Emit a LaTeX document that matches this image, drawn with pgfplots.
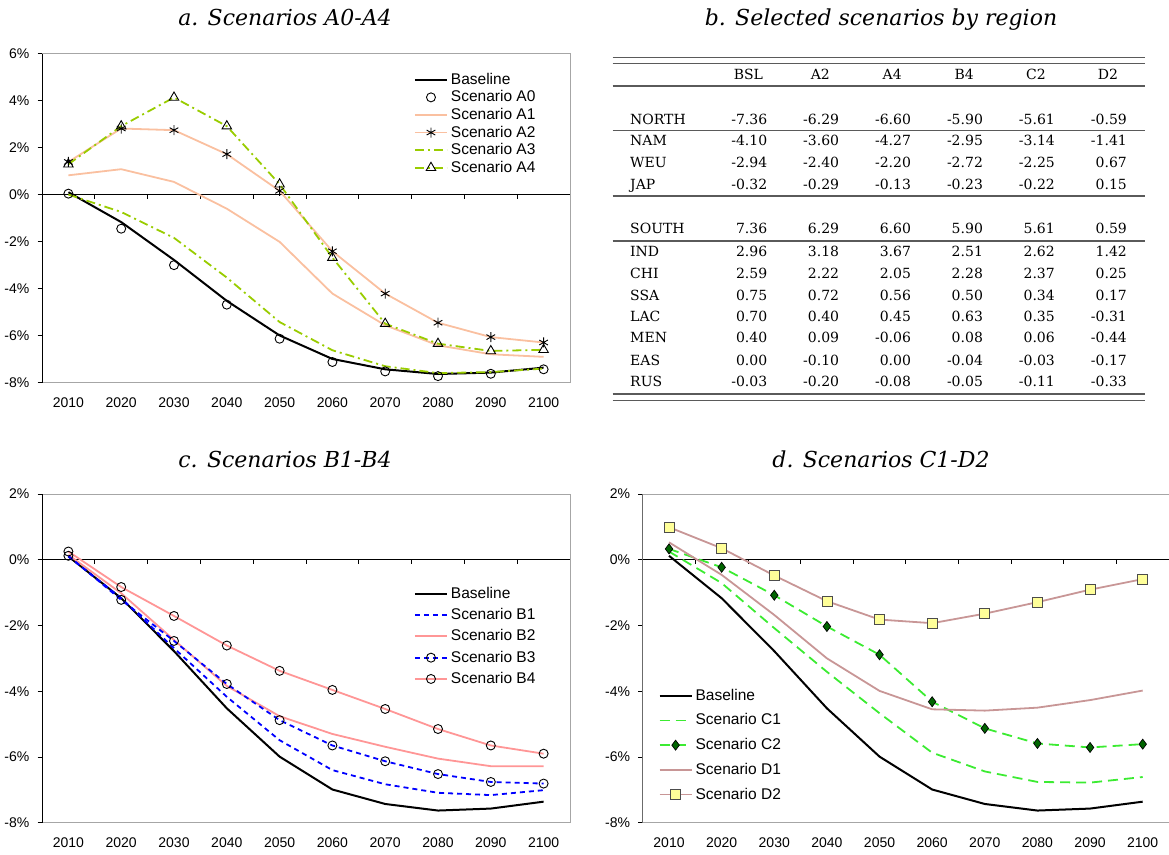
\documentclass[border=0pt]{standalone}
\usepackage{fontspec}
\setmainfont{Liberation Sans}
\newfontfamily\serif{DejaVu Serif}
\usepackage{pgfplots}
\usepackage{pgfplotstable}
\pgfplotsset{compat=1.18}

\definecolor{salmon}{RGB}{250,192,160}
\definecolor{lime}{RGB}{153,204,0}
\definecolor{bblue}{RGB}{0,0,255}
\definecolor{pinkb}{RGB}{255,150,150}
\definecolor{cgreen}{RGB}{60,235,50}
\definecolor{dgreen}{RGB}{0,100,0}
\definecolor{rose}{RGB}{200,150,150}
\definecolor{lyellow}{RGB}{255,255,153}
\definecolor{rule}{RGB}{90,90,90}

% panel a
\pgfplotstableread{
year  bsl    a0     a1     a2     a3     a4
2010  0.10   0.04   0.82   1.39   0.00   1.29
2020 -1.17  -1.45   1.08   2.81  -0.74   2.91
2030 -2.78  -3.00   0.54   2.74  -1.84   4.13
2040 -4.52  -4.68  -0.60   1.72  -3.53   2.91
2050 -5.99  -6.13  -2.01   0.16  -5.42   0.44
2060 -6.99  -7.12  -4.21  -2.41  -6.62  -2.68
2070 -7.43  -7.52  -5.56  -4.21  -7.30  -5.49
2080 -7.63  -7.72  -6.41  -5.45  -7.59  -6.34
2090 -7.57  -7.62  -6.79  -6.06  -7.55  -6.65
2100 -7.36  -7.43  -6.90  -6.29  -7.40  -6.60
}\tabA

% panel c
\pgfplotstableread{
year  bsl    b1     b2     b3     b4
2010  0.10   0.10   0.15   0.12   0.25
2020 -1.17  -1.17  -1.02  -1.22  -0.83
2030 -2.78  -2.69  -2.44  -2.47  -1.71
2040 -4.52  -4.17  -3.84  -3.78  -2.61
2050 -5.99  -5.49  -4.76  -4.88  -3.38
2060 -6.99  -6.40  -5.30  -5.65  -3.96
2070 -7.43  -6.83  -5.69  -6.13  -4.54
2080 -7.63  -7.09  -6.05  -6.52  -5.15
2090 -7.57  -7.16  -6.28  -6.76  -5.65
2100 -7.36  -7.01  -6.28  -6.81  -5.90
}\tabC

% panel d
\pgfplotstableread{
year  bsl    c1     c2     d1     d2
2010  0.12   0.25   0.33   0.53   0.99
2020 -1.17  -0.71  -0.23  -0.46   0.35
2030 -2.78  -2.08  -1.08  -1.68  -0.48
2040 -4.52  -3.41  -2.03  -3.00  -1.26
2050 -5.99  -4.67  -2.89  -3.99  -1.82
2060 -6.99  -5.87  -4.32  -4.55  -1.93
2070 -7.43  -6.44  -5.13  -4.59  -1.64
2080 -7.63  -6.76  -5.59  -4.50  -1.29
2090 -7.57  -6.78  -5.71  -4.27  -0.91
2100 -7.36  -6.61  -5.61  -3.98  -0.59
}\tabD

\pgfplotsset{
  panel/.style={
    scale only axis,
    xmin=2005, xmax=2105,
    xtick={2010,2020,2030,2040,2050,2060,2070,2080,2090,2100},
    xticklabels={2010,2020,2030,2040,2050,2060,2070,2080,2090,2100},
    xtick style={draw=none},
    ytick pos=left,
    tick align=outside,
    major tick length=4.5pt,
    ytick style={black, line width=0.8pt},
    axis line style={draw=gray!70, line width=1pt},
    tick label style={font=\fontsize{14}{16}\selectfont},
    yticklabel style={inner sep=0pt, xshift=-8pt},
    xticklabel style={inner sep=0pt, yshift=-10pt},
    legend cell align=left,
    legend style={draw=none, fill=none, inner sep=0pt, outer sep=0pt,
      anchor=north west, font=\fontsize{15.5}{17}\selectfont, column sep=3pt,
      nodes={inner sep=0pt, text height=11pt, text depth=3pt}},
    legend image code/.code={
      \draw[mark repeat=2, mark phase=2, ##1] plot coordinates {(0pt,0.5pt) (16pt,0.5pt) (32pt,0.5pt)};},
    every axis plot/.append style={line width=1.8pt},
  },
}
\newcommand\decor{%
  \draw[black, line width=1pt] (rel axis cs:0,0) -- (rel axis cs:0,1);
  \draw[black, line width=1pt] (axis cs:2005,0) -- (axis cs:2105,0);
  \pgfplotsinvokeforeach{2015,2025,2035,2045,2055,2065,2075,2085,2095}{
    \draw[black, line width=0.8pt] (axis cs:##1,0) -- ++(0pt,-4.5pt);}
}
\newcommand\trow[8]{%
  \node[anchor=base west] at (630pt,-#1pt) {#2};
  \node[anchor=base east] at (767.4pt,-#1pt) {#3};
  \node[anchor=base east] at (839.3pt,-#1pt) {#4};
  \node[anchor=base east] at (911.2pt,-#1pt) {#5};
  \node[anchor=base east] at (983.1pt,-#1pt) {#6};
  \node[anchor=base east] at (1055pt,-#1pt) {#7};
  \node[anchor=base east] at (1127pt,-#1pt) {#8};
}

\begin{document}
\begin{tikzpicture}
\path[use as bounding box] (0pt,0pt) rectangle (1169pt,-854pt);

% titles
\begin{scope}[every node/.style={anchor=base, font=\serif\itshape\fontsize{22}{26}\selectfont}]
\node at (285pt,-25pt) {a. Scenarios A0-A4};
\node at (881pt,-25pt) {b. Selected scenarios by region};
\node at (285pt,-467pt) {c. Scenarios B1-B4};
\node at (881pt,-467pt) {d. Scenarios C1-D2};
\end{scope}

% ---- panel a
\begin{axis}[panel, at={(42pt,-382.7pt)}, anchor=south west,
  width=528pt, height=329.2pt, ymin=-8, ymax=6,
  ytick={-8,-6,-4,-2,0,2,4,6},
  yticklabels={-8\%,-6\%,-4\%,-2\%,0\%,2\%,4\%,6\%},
  legend style={at={(0.7045,0.94)}, row sep=3.6pt}]
\decor
\addplot[color=black, line width=2pt] table[x=year, y=bsl] {\tabA};
\addlegendentry{Baseline}
\addplot[only marks, mark=o, mark size=4.5pt, mark options={black, line width=0.9pt}] table[x=year, y=a0] {\tabA};
\addlegendentry{Scenario A0}
\addplot[color=salmon] table[x=year, y=a1] {\tabA};
\addlegendentry{Scenario A1}
\addplot[color=salmon, mark=asterisk, mark size=5pt, mark options={black, line width=0.9pt}] table[x=year, y=a2] {\tabA};
\addlegendentry{Scenario A2}
\addplot[color=lime, dash pattern=on 9pt off 4pt on 2pt off 4pt] table[x=year, y=a3] {\tabA};
\addlegendentry{Scenario A3}
\addplot[color=lime, dash pattern=on 9pt off 4pt on 2pt off 4pt, mark=triangle, mark size=5.5pt, mark options={solid, black, line width=0.9pt}] table[x=year, y=a4] {\tabA};
\addlegendentry{Scenario A4}
\end{axis}

% ---- panel c
\begin{axis}[panel, at={(42pt,-822.7pt)}, anchor=south west,
  width=528pt, height=328.7pt, ymin=-8, ymax=2,
  ytick={-8,-6,-4,-2,0,2},
  yticklabels={-8\%,-6\%,-4\%,-2\%,0\%,2\%},
  legend style={at={(0.7045,0.7163)}, row sep=7.3pt}]
\decor
\addplot[color=black, line width=2pt] table[x=year, y=bsl] {\tabC};
\addlegendentry{Baseline}
\addplot[color=bblue, dash pattern=on 5pt off 4pt] table[x=year, y=b1] {\tabC};
\addlegendentry{Scenario B1}
\addplot[color=pinkb] table[x=year, y=b2] {\tabC};
\addlegendentry{Scenario B2}
\addplot[color=bblue, dash pattern=on 5pt off 4pt, mark=o, mark size=4.5pt, mark options={solid, black, line width=0.9pt}] table[x=year, y=b3] {\tabC};
\addlegendentry{Scenario B3}
\addplot[color=pinkb, mark=o, mark size=4.5pt, mark options={solid, black, line width=0.9pt}] table[x=year, y=b4] {\tabC};
\addlegendentry{Scenario B4}
\end{axis}

% ---- panel d
\begin{axis}[panel, at={(642.7pt,-822.7pt)}, anchor=south west,
  width=526.3pt, height=328.7pt, ymin=-8, ymax=2,
  ytick={-8,-6,-4,-2,0,2},
  yticklabels={-8\%,-6\%,-4\%,-2\%,0\%,2\%},
  legend style={at={(0.0302,0.406)}, row sep=10.7pt}]
\decor
\addplot[color=black, line width=2pt] table[x=year, y=bsl] {\tabD};
\addlegendentry{Baseline}
\addplot[color=cgreen, dash pattern=on 10pt off 6pt] table[x=year, y=c1] {\tabD};
\addlegendentry{Scenario C1}
\addplot[color=cgreen, dash pattern=on 10pt off 6pt, mark=diamond*, mark size=5pt, mark options={solid, draw=black, fill=dgreen, line width=0.7pt}] table[x=year, y=c2] {\tabD};
\addlegendentry{Scenario C2}
\addplot[color=rose] table[x=year, y=d1] {\tabD};
\addlegendentry{Scenario D1}
\addplot[color=rose, mark=square*, mark size=5pt, mark options={solid, draw=black!70, fill=lyellow, line width=0.8pt}] table[x=year, y=d2] {\tabD};
\addlegendentry{Scenario D2}
\end{axis}

% ---- panel b: table
\begin{scope}[every node/.style={inner sep=0pt, font=\serif\fontsize{14}{16}\selectfont}]
\draw[rule, line width=1.3pt] (612.7pt,-57.3pt) -- (1145pt,-57.3pt);
\draw[rule, line width=1.3pt] (612.7pt,-63.5pt) -- (1145pt,-63.5pt);
\draw[rule, line width=1.3pt] (612.7pt,-86pt) -- (1145pt,-86pt);
\draw[rule, line width=1.3pt] (612.7pt,-130.5pt) -- (1145pt,-130.5pt);
\draw[rule, line width=1.3pt] (612.7pt,-196pt) -- (1145pt,-196pt);
\draw[rule, line width=1.3pt] (612.7pt,-241pt) -- (1145pt,-241pt);
\draw[rule, line width=1.3pt] (612.7pt,-394pt) -- (1145pt,-394pt);
\draw[rule, line width=1.3pt] (612.7pt,-400.5pt) -- (1145pt,-400.5pt);
\foreach \c/\x in {BSL/748.4, A2/820.3, A4/892.2, B4/964.1, C2/1036, D2/1108}
  \node[anchor=base] at (\x pt,-79pt) {\c};
\trow{124}{NORTH}{-7.36}{-6.29}{-6.60}{-5.90}{-5.61}{-0.59}
\trow{145.7}{NAM}{-4.10}{-3.60}{-4.27}{-2.95}{-3.14}{-1.41}
\trow{167.7}{WEU}{-2.94}{-2.40}{-2.20}{-2.72}{-2.25}{0.67}
\trow{189}{JAP}{-0.32}{-0.29}{-0.13}{-0.23}{-0.22}{0.15}
\trow{233.7}{SOUTH}{7.36}{6.29}{6.60}{5.90}{5.61}{0.59}
\trow{256}{IND}{2.96}{3.18}{3.67}{2.51}{2.62}{1.42}
\trow{278.3}{CHI}{2.59}{2.22}{2.05}{2.28}{2.37}{0.25}
\trow{300}{SSA}{0.75}{0.72}{0.56}{0.50}{0.34}{0.17}
\trow{321}{LAC}{0.70}{0.40}{0.45}{0.63}{0.35}{-0.31}
\trow{342.7}{MEN}{0.40}{0.09}{-0.06}{0.08}{0.06}{-0.44}
\trow{365}{EAS}{0.00}{-0.10}{0.00}{-0.04}{-0.03}{-0.17}
\trow{386.7}{RUS}{-0.03}{-0.20}{-0.08}{-0.05}{-0.11}{-0.33}
\end{scope}
\end{tikzpicture}
\end{document}
